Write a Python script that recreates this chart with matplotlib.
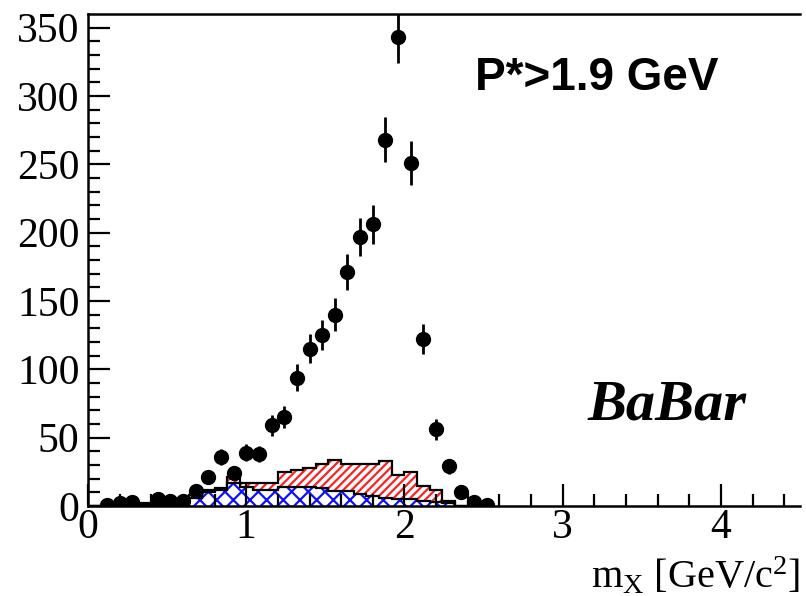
import numpy as np
import matplotlib
matplotlib.use("Agg")
import matplotlib.pyplot as plt

# data points (bin centres, GeV/c^2) and counts
x_data = [0.12, 0.20, 0.28, 0.44, 0.52, 0.60, 0.68, 0.76, 0.84, 0.92,
          1.00, 1.08, 1.16, 1.24, 1.32, 1.40, 1.48, 1.56, 1.64, 1.72,
          1.80, 1.88, 1.96, 2.04, 2.12, 2.20, 2.28, 2.36, 2.44, 2.52]
y_data = [1, 2, 3, 5, 4, 4, 11, 21, 36, 24,
          39, 38, 59, 65, 94, 115, 125, 140, 171, 197,
          206, 268, 343, 251, 122, 56, 29, 10, 3, 1]

# histogram bin edges (0.08 GeV/c^2 bins)
bin_edges = [round(0.08 * k, 2) for k in range(31)]
# total background (top of red hatched area)
total_bkg = [0, 0, 0, 0, 2, 2, 2, 2, 8, 12,
             13, 21, 17, 17, 17, 25, 26, 28, 31, 34,
             31, 31, 31, 33, 23, 25, 15, 12, 4, 0]
# lower component (blue cross-hatched)
blue_bkg = [0, 0, 0, 0, 1, 1, 1, 1, 6, 10,
            12, 17, 14, 12, 12, 14, 14, 14, 13, 11,
            11, 9, 7, 6, 5, 5, 4, 3, 2, 0]

plt.rcParams['font.family'] = 'Liberation Serif'
plt.rcParams['mathtext.fontset'] = 'custom'
plt.rcParams['mathtext.rm'] = 'Liberation Serif'
plt.rcParams['mathtext.it'] = 'Liberation Serif:italic'
plt.rcParams['hatch.linewidth'] = 1.6

fig = plt.figure(figsize=(8.06, 5.96), dpi=100)
ax = fig.add_axes([88 / 806, 1 - 506 / 596, 712 / 806, 492 / 596])

# red hatched total, then blue cross-hatched component
ax.stairs(total_bkg, bin_edges, fill=True, facecolor='white',
          edgecolor='#ff2020', hatch='////', linewidth=0)
ax.stairs(total_bkg, bin_edges, color='black', linewidth=1.6)
ax.stairs(blue_bkg, bin_edges, fill=True, facecolor='white',
          edgecolor='#1010ff', hatch='xx', linewidth=0)
ax.stairs(blue_bkg, bin_edges, color='black', linewidth=1.6)

ax.errorbar(x_data, y_data, yerr=np.sqrt(y_data), fmt='o', color='black',
            markersize=10, elinewidth=2, capsize=0, zorder=5)

ax.set_xlim(0, 4.5)
ax.set_ylim(0, 360)
ax.set_xticks([0, 1, 2, 3, 4])
ax.set_xticks(np.arange(0, 4.5, 0.2), minor=True)
ax.set_yticks(np.arange(0, 351, 50))
ax.set_yticks(np.arange(0, 360, 10), minor=True)
ax.tick_params(which='both', direction='in', top=False, right=False,
               width=1.6, labelsize=30)
ax.tick_params(which='major', length=16)
ax.tick_params(which='minor', length=8.5)
ax.tick_params(axis='y', pad=6)
ax.tick_params(axis='x', pad=2)
for s in ax.spines.values():
    s.set_linewidth(1.8)
ax.spines['right'].set_visible(False)

ax.set_xlabel(r'm$_{\mathrm{X}}$ [GeV/c$^{2}$]', fontsize=29, loc='right',
              labelpad=6)

ax.text(0.543, 0.845, 'P*>1.9 GeV', transform=ax.transAxes, family='Liberation Sans',
        fontweight='bold', fontsize=33, va='baseline')
ax.text(0.702, 0.175, 'BaBar', transform=ax.transAxes, family='Liberation Serif',
        fontweight='bold', fontstyle='italic', fontsize=42, va='baseline')

fig.savefig('out.png', dpi=100)
